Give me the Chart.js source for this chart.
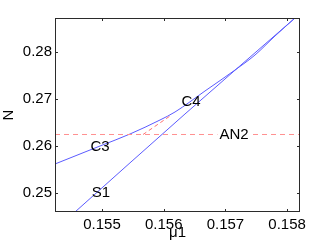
<!DOCTYPE html>
<html>
<head>
<meta charset="utf-8">
<script src="https://cdn.jsdelivr.net/npm/chart.js@4"></script>
<style>
  html, body { margin: 0; padding: 0; background: #fff; }
  #wrap { width: 332px; height: 250px; }
</style>
</head>
<body>
<div id="wrap"><canvas id="grafico" width="332" height="250"></canvas></div>
<script>
// axis range and ticks
const xMin = 0.154238, xMax = 0.158209;
const yMin = 0.245957, yMax = 0.287234;
const xTicks = [0.155, 0.156, 0.157, 0.158];
const yTicks = [0.25, 0.26, 0.27, 0.28];

// branch C3 -> C4 (upper curve)
const c3x = [0.154238, 0.154968, 0.155454, 0.155940, 0.156183, 0.156669, 0.157156, 0.157480, 0.157804, 0.158128];
const c3y = [0.256170, 0.260000, 0.262553, 0.265532, 0.267234, 0.271702, 0.276170, 0.279362, 0.283404, 0.287234];

// branch S1 (lower line)
const s1x = [0.154562, 0.156345, 0.158128];
const s1y = [0.245957, 0.266809, 0.287234];

// AN2 horizontal line
const an2x = [0.154238, 0.158209];
const an2y = [0.262447, 0.262447];

// short dashed segment near C4
const segx = [0.155665, 0.156102];
const segy = [0.262447, 0.266383];

// text labels
const rotulos = ['C3', 'C4', 'AN2', 'S1'];
const rotX = [0.154968, 0.156442, 0.157139, 0.154984];
const rotY = [0.259787, 0.269362, 0.262340, 0.250000];

const fonte = '"Liberation Sans", Arial, Helvetica, sans-serif';
const azul = '#5b5bff';
const vermelho = '#ff9090';

function pontos(xs, ys) {
    return xs.map((x, i) => ({ x: x, y: ys[i] }));
}

// box + inward ticks + labels
const moldura = {
    id: 'moldura',
    afterDatasetsDraw(chart) {
        const ctx = chart.ctx;
        const a = chart.chartArea;
        const sx = chart.scales.x, sy = chart.scales.y;
        ctx.save();
        ctx.strokeStyle = '#2b2b2b';
        ctx.lineWidth = 1;
        ctx.strokeRect(a.left + 0.5, a.top + 0.5, a.right - a.left - 1, a.bottom - a.top - 1);
        ctx.beginPath();
        xTicks.forEach(v => {
            const px = Math.round(sx.getPixelForValue(v)) + 0.5;
            ctx.moveTo(px, a.bottom); ctx.lineTo(px, a.bottom - 3);
            ctx.moveTo(px, a.top); ctx.lineTo(px, a.top + 3);
        });
        yTicks.forEach(v => {
            const py = Math.round(sy.getPixelForValue(v)) + 0.5;
            ctx.moveTo(a.left, py); ctx.lineTo(a.left + 3, py);
            ctx.moveTo(a.right, py); ctx.lineTo(a.right - 3, py);
        });
        ctx.stroke();

        ctx.font = '15px ' + fonte;
        ctx.textAlign = 'center';
        ctx.textBaseline = 'middle';
        rotulos.forEach((t, i) => {
            const px = sx.getPixelForValue(rotX[i]);
            const py = sy.getPixelForValue(rotY[i]);
            if (t === 'AN2') {
                const w = ctx.measureText(t).width;
                ctx.fillStyle = '#fff';
                ctx.fillRect(px - w / 2 - 2, py - 6, w + 4, 12);
            }
            ctx.fillStyle = '#000';
            ctx.fillText(t, px, py);
        });
        ctx.restore();
    }
};

const ctx = document.getElementById('grafico').getContext('2d');
new Chart(ctx, {
    type: 'scatter',
    data: {
        datasets: [
            {
                data: pontos(an2x, an2y),
                showLine: true,
                borderColor: vermelho,
                borderWidth: 1,
                borderDash: [5, 4],
                pointRadius: 0
            },
            {
                data: pontos(segx, segy),
                showLine: true,
                borderColor: '#ff7070',
                borderWidth: 1,
                borderDash: [4, 3],
                pointRadius: 0
            },
            {
                data: pontos(c3x, c3y),
                showLine: true,
                borderColor: azul,
                borderWidth: 1,
                cubicInterpolationMode: 'monotone',
                pointRadius: 0
            },
            {
                data: pontos(s1x, s1y),
                showLine: true,
                borderColor: azul,
                borderWidth: 1,
                cubicInterpolationMode: 'monotone',
                pointRadius: 0
            }
        ]
    },
    options: {
        responsive: false,
        animation: false,
        layout: { padding: { top: 18, right: 32, left: 0, bottom: 0 } },
        plugins: { legend: { display: false }, tooltip: { enabled: false } },
        scales: {
            x: {
                type: 'linear',
                min: xMin,
                max: xMax,
                afterBuildTicks: s => { s.ticks = xTicks.map(v => ({ value: v })); },
                afterFit: s => { s.height = 38; },
                grid: { display: false, drawTicks: false },
                border: { display: false },
                ticks: {
                    padding: 4,
                    color: '#000',
                    maxRotation: 0,
                    font: { family: fonte, size: 15 },
                    callback: v => v.toFixed(3)
                },
                title: {
                    display: true,
                    text: 'μ1',
                    color: '#000',
                    padding: { top: 0, bottom: 8 },
                    font: { family: fonte, size: 15 }
                }
            },
            y: {
                type: 'linear',
                min: yMin,
                max: yMax,
                afterBuildTicks: s => { s.ticks = yTicks.map(v => ({ value: v })); },
                afterFit: s => { s.width = 55; },
                grid: { display: false, drawTicks: false },
                border: { display: false },
                ticks: {
                    padding: 3,
                    color: '#000',
                    font: { family: fonte, size: 15 },
                    callback: v => v.toFixed(2)
                },
                title: {
                    display: true,
                    text: 'N',
                    color: '#000',
                    padding: { top: 0, bottom: 0 },
                    font: { family: fonte, size: 15 }
                }
            }
        }
    },
    plugins: [moldura]
});
</script>
</body>
</html>
